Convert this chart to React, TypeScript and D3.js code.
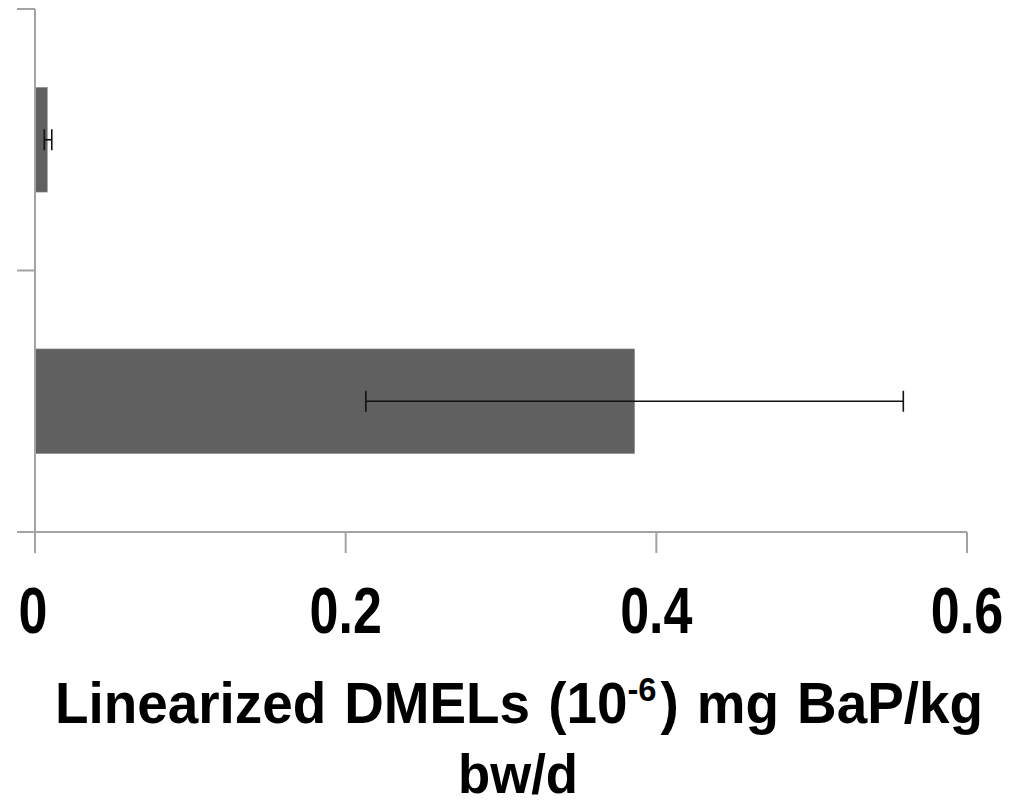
import React from "react";
import * as d3 from "d3";

const categories = ["Group A", "Group B"];
const values = [0.0079, 0.386];
const errLow = [0.006, 0.213];
const errHigh = [0.0108, 0.559];
const xTicks = [0, 0.2, 0.4, 0.6];
const xTickLabels = ["0", "0.2", "0.4", "0.6"];

const W = 1015;
const H = 805;
const axisColor = "#a3a3a3";
const barColor = "#606060";

export default function App() {
  const x = d3.scaleLinear().domain([0, 0.6]).range([35, 967]);
  const y = d3
    .scaleBand<string>()
    .domain(categories)
    .range([9, 532])
    .paddingInner(0.6)
    .paddingOuter(0.3);
  const step = y.step();
  const [y0, y1] = y.range();
  const bandEdges = d3.range(categories.length + 1).map((i) => y0 + i * step);
  const axisY = y1;
  const capHalf = 10.5;
  const font = "'Liberation Sans', Arial, sans-serif";

  return (
    <svg
      width={W}
      height={H}
      style={{ position: "absolute", left: 0, top: 0, background: "#fff" }}
    >
      {/* bars */}
      {categories.map((c, i) => (
        <rect
          key={c}
          x={x(0)}
          y={y(c)}
          width={x(values[i]) - x(0)}
          height={y.bandwidth()}
          fill={barColor}
          stroke="#8a8a8a"
          strokeWidth={0.6}
        />
      ))}
      {/* error bars */}
      {categories.map((c, i) => {
        const cy = (y(c) as number) + y.bandwidth() / 2;
        return (
          <g key={c + "-err"} stroke="#111" strokeWidth={1.6}>
            <line x1={x(errLow[i])} x2={x(errHigh[i])} y1={cy} y2={cy} />
            <line x1={x(errLow[i])} x2={x(errLow[i])} y1={cy - capHalf} y2={cy + capHalf} />
            <line x1={x(errHigh[i])} x2={x(errHigh[i])} y1={cy - capHalf} y2={cy + capHalf} />
          </g>
        );
      })}
      {/* y axis */}
      <g stroke={axisColor} strokeWidth={2}>
        <line x1={x(0)} x2={x(0)} y1={y0} y2={axisY + 21} />
        {bandEdges.map((e, i) => (
          <line key={i} x1={17} x2={x(0)} y1={e} y2={e} />
        ))}
      </g>
      {/* x axis */}
      <g stroke={axisColor} strokeWidth={2}>
        <line x1={17} x2={x(0.6)} y1={axisY} y2={axisY} />
        {xTicks.map((t) => (
          <line key={t} x1={x(t)} x2={x(t)} y1={axisY} y2={axisY + 21} />
        ))}
      </g>
      {xTicks.map((t, i) => (
        <text
          key={"l" + t}
          transform={`translate(${x(t) - (i === 0 ? 2 : 0)},633) scale(0.8,1)`}
          textAnchor="middle"
          fontFamily={font}
          fontWeight="bold"
          fontSize={65}
          fill="#000"
        >
          {xTickLabels[i]}
        </text>
      ))}
      {/* axis title */}
      <text
        x={55}
        y={723}
        fontFamily={font}
        fontWeight="bold"
        fontSize={57}
        fill="#000"
        textLength={928}
        lengthAdjust="spacingAndGlyphs"
        wordSpacing={3}
      >
        <tspan>Linearized DMELs (10</tspan>
        <tspan fontSize={34} dy={-22}>-6</tspan>
        <tspan dy={22} dx={4}>) mg BaP/kg</tspan>
      </text>
      <text
        x={458}
        y={793}
        fontFamily={font}
        fontWeight="bold"
        fontSize={55}
        fill="#000"
        textLength={120}
        lengthAdjust="spacingAndGlyphs"
      >
        bw/d
      </text>
    </svg>
  );
}
